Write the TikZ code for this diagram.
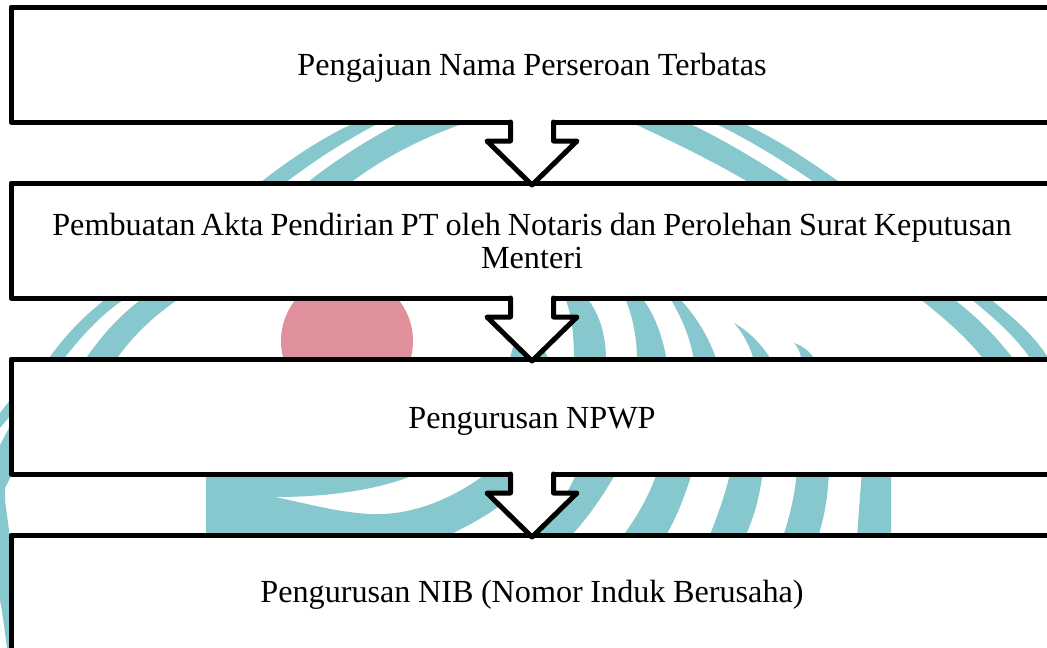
\documentclass[tikz,border=0pt]{standalone}
\usepackage{fontspec}
\setmainfont{Liberation Serif}
\usetikzlibrary{calc}
\definecolor{wmteal}{HTML}{87C7CE}
\definecolor{wmpink}{HTML}{E0909A}
\tikzset{
  x=1pt,y=-1pt,
  stepbox/.style={draw=black,fill=white,line width=5pt,minimum width=1042pt,minimum height=115pt,outer sep=0pt,align=center,font=\fontsize{32.2pt}{33pt}\selectfont,text width=1020pt,line join=round},
  band/.style={fill=wmteal,draw=none},
  flowarrow/.style={draw=black,line width=5pt,line join=round,line cap=round},
  arrowmask/.style={fill=white,draw=none}
}
\newcommand{\flowdown}[1]{%
  \fill[white] ($(#1.south)+(-21.5,-3)$) rectangle ($(#1.south)+(21.5,3)$);
  \path[arrowmask] ($(#1.south)+(-21.5,0)$) -- ($(#1.south)+(-21.5,19)$) -- ($(#1.south)+(-45,19)$) -- ($(#1.south)+(0,63)$) -- ($(#1.south)+(45,19)$) -- ($(#1.south)+(21.5,19)$) -- ($(#1.south)+(21.5,0)$) -- cycle;
  \draw[flowarrow] ($(#1.south)+(-21.5,0)$) -- ($(#1.south)+(-21.5,19)$) -- ($(#1.south)+(-45,19)$) -- ($(#1.south)+(0,63)$) -- ($(#1.south)+(45,19)$) -- ($(#1.south)+(21.5,19)$) -- ($(#1.south)+(21.5,0)$);
}
\begin{document}
\begin{tikzpicture}
\useasboundingbox (0,0) rectangle (1047,648);
\clip (0,0) rectangle (1047,648);
\fill[white] (0,0) rectangle (1047,648);
% watermark, gap 1
\path[band] (356,122) .. controls (322,138) and (288,160) .. (256,186) -- (281,186) .. controls (312,162) and (346,140) .. (381,122) -- cycle;
\path[band] (402,122) .. controls (372,137) and (335,160) .. (303,186) -- (346,186) .. controls (380,160) and (420,138) .. (468,122) -- cycle;
\path[band] (630,122) .. controls (670,140) and (715,162) .. (755,186) -- (797,186) .. controls (765,165) and (725,140) .. (686,122) -- cycle;
\path[band] (712,122) .. controls (750,140) and (785,162) .. (820,186) -- (845,186) .. controls (815,165) and (780,140) .. (740,122) -- cycle;
% gap 2
\fill[wmpink] (347,341) circle (66);
\path[band] (107,298) .. controls (85,315) and (65,335) .. (47,361) -- (62,361) .. controls (80,338) and (100,315) .. (126,298) -- cycle;
\path[band] (143,298) .. controls (120,315) and (102,335) .. (84,361) -- (115,361) .. controls (133,335) and (155,315) .. (180,298) -- cycle;
\path[band] (510,358) -- (513,347) -- (530,344) -- (545,352) -- (548,358) -- cycle;
\path[band] (565,298) .. controls (572,315) and (574,335) .. (574,361) -- (606,361) .. controls (606,335) and (600,315) .. (587,298) -- cycle;
\path[band] (625,298) .. controls (632,315) and (637,335) .. (637,361) -- (667,361) .. controls (662,335) and (655,315) .. (642,298) -- cycle;
\path[band] (670,298) .. controls (680,315) and (690,335) .. (694,361) -- (717,361) .. controls (708,335) and (695,315) .. (679,298) -- cycle;
\path[band] (734,323) .. controls (742,332) and (750,345) .. (754,361) -- (772,361) .. controls (762,345) and (750,332) .. (734,323) -- cycle;
\path[band] (794,343) .. controls (798,347) and (800,352) .. (802,361) -- (816,361) .. controls (810,352) and (805,347) .. (794,343) -- cycle;
\path[band] (919,298) .. controls (940,315) and (965,335) .. (985,361) -- (1015,361) .. controls (995,335) and (975,315) .. (952,298) -- cycle;
\path[band] (970,298) .. controls (990,315) and (1015,335) .. (1032,361) -- (1050,361) .. controls (1035,335) and (1010,315) .. (989,298) -- cycle;
% gap 3
\path[band] (206,470) -- (206,537) -- (445,537) .. controls (470,525) and (500,510) .. (530,480) -- (530,470) -- (485,470) -- (483,476) .. controls (450,500) and (410,516) .. (370,514) .. controls (335,512) and (305,503) .. (275,497) .. controls (320,497) and (370,492) .. (412,476) -- (415,470) -- cycle;
\path[band] (578,470) -- (618,470) .. controls (600,500) and (590,515) .. (570,537) -- (530,537) .. controls (550,520) and (565,500) .. (578,470) -- cycle;
\path[band] (658,470) -- (693,470) .. controls (685,495) and (678,515) .. (665,537) -- (622,537) .. controls (635,520) and (650,495) .. (658,470) -- cycle;
\path[band] (731,470) -- (763,470) .. controls (760,495) and (755,515) .. (745,537) -- (709,537) .. controls (718,515) and (725,495) .. (731,470) -- cycle;
\path[band] (797,470) -- (829,470) .. controls (828,495) and (825,515) .. (818,537) -- (783,537) .. controls (790,515) and (795,495) .. (797,470) -- cycle;
\path[band] (862,470) -- (891,470) -- (891,537) -- (857,537) -- cycle;
% left edge
\path[band] (0,413) -- (10,400) -- (10,416) -- (0,428) -- cycle;
\path[band] (0,445) -- (10,426) -- (10,478) -- (5,488) -- (5,500) -- (9,530) -- (12,648) -- (7,648) .. controls (4,625) and (2,610) .. (0,600) -- cycle;
% boxes
\node[stepbox,text height=28pt,text depth=7pt] (b1) at (532,64.5) {\spaceskip=7.5pt\relax Pengajuan Nama Perseroan Terbatas};
\node[stepbox] (b2) at (532,240.5) {\spaceskip=7pt\relax Pembuatan\hspace{-1.5pt} Akta Pendirian PT oleh Notaris dan Perolehan Surat Keputusan\\Menteri\\[33pt]};
\node[stepbox,text height=30pt,text depth=7pt] (b3) at (532,416.5) {\spaceskip=7.5pt\relax Pengurusan NPWP};
\node[stepbox,text height=26pt,text depth=7pt] (b4) at (532,592.5) {\spaceskip=7.5pt\relax Pengurusan NIB (Nomor Induk Berusaha)};
\flowdown{b1}
\flowdown{b2}
\flowdown{b3}
\end{tikzpicture}
\end{document}
